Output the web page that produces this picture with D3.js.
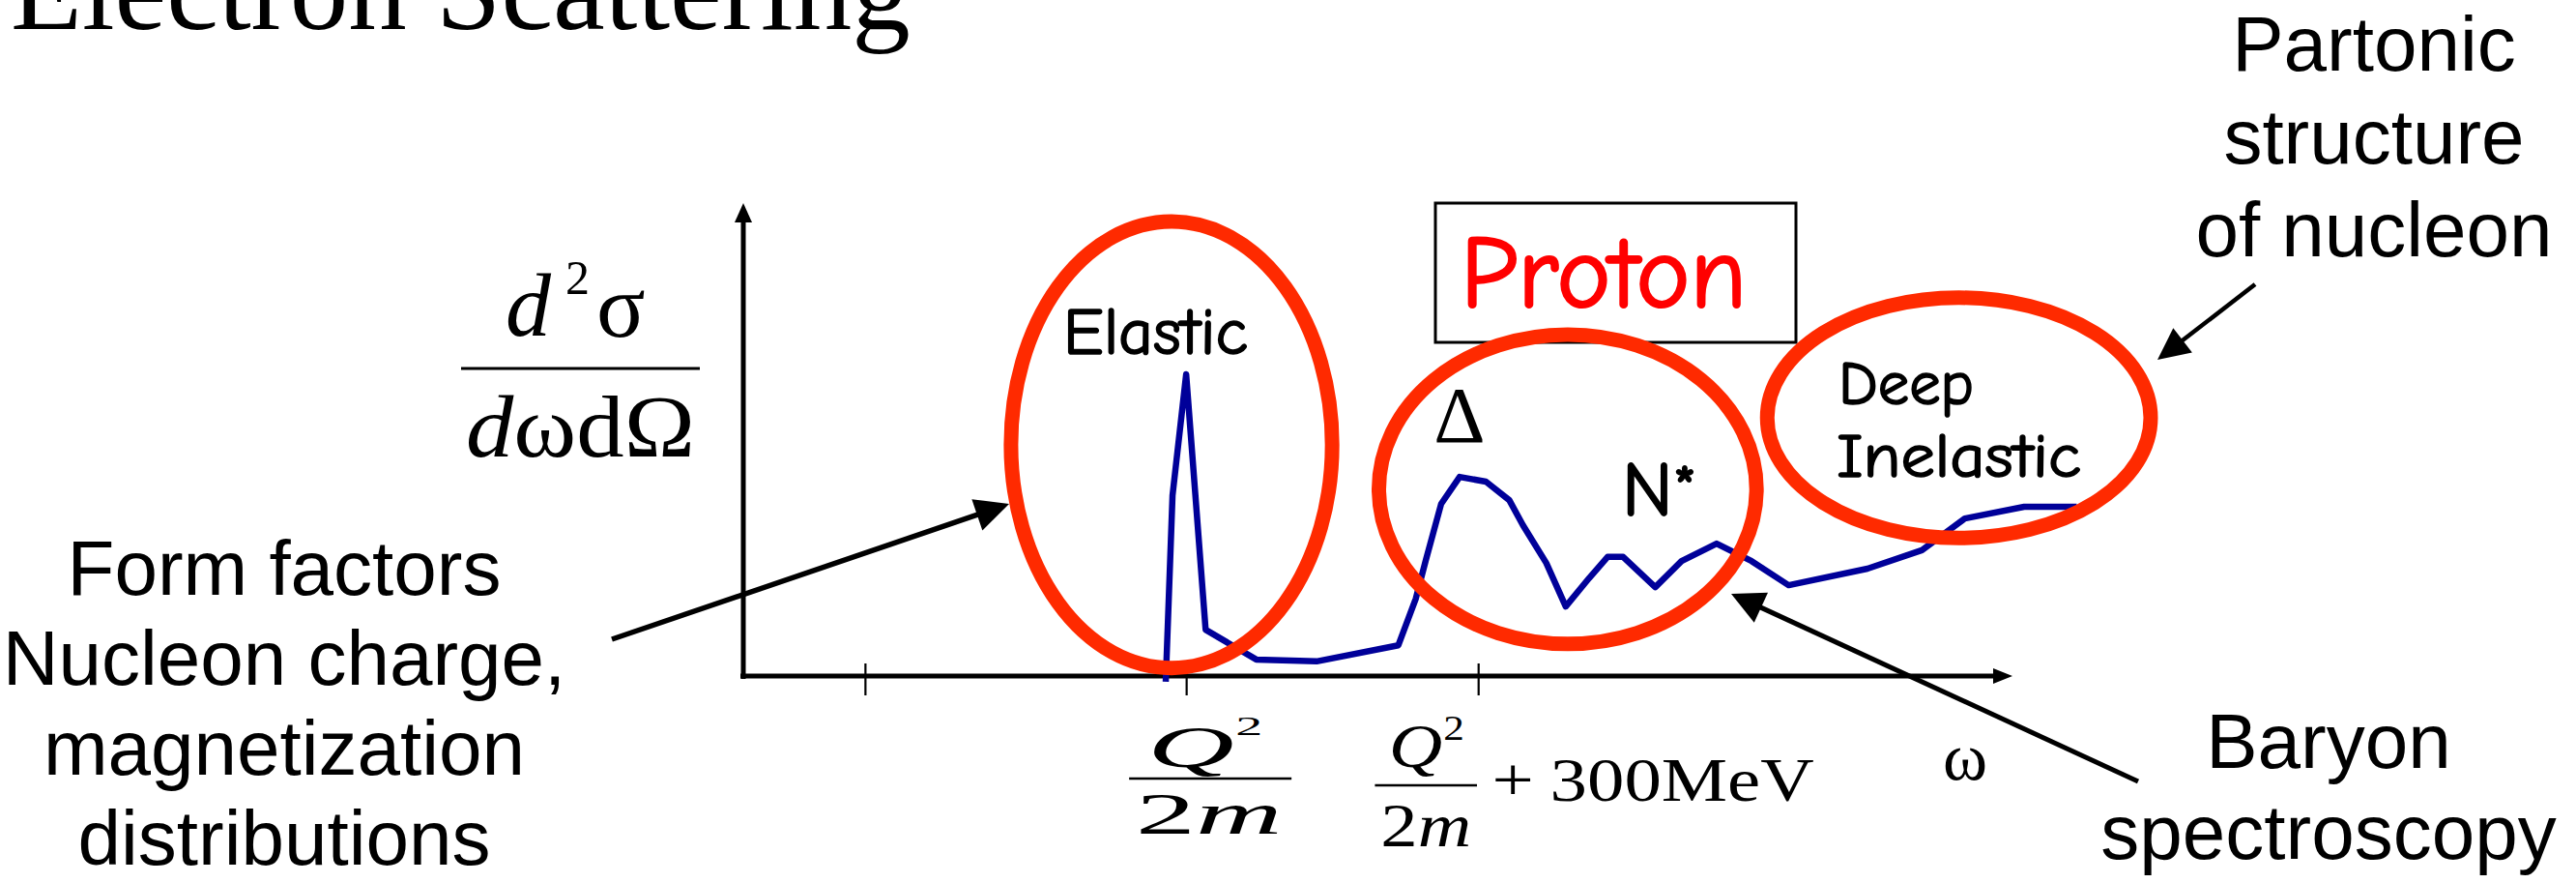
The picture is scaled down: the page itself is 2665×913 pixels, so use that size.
<!DOCTYPE html>
<html>
<head>
<meta charset="utf-8">
<script src="https://cdn.jsdelivr.net/npm/d3@7"></script>
<style>
  html, body { margin: 0; padding: 0; background: #fff; }
  svg { display: block; }
</style>
</head>
<body>
<svg id="chart" width="2665" height="913"></svg>
<script>
// Energy transfer measured from the elastic peak Q²/2m, in MeV
const omega = [-21, -14, 0, 20, 72, 134, 218, 236, 246, 262, 281, 308, 332, 346, 370, 390,
               414, 433, 449, 482, 509, 545, 581, 619, 700, 756, 800, 861, 915];
// Double-differential cross section, arbitrary units
const crossSection = [-1.2, 38.2, 63.8, 9.8, 3.5, 3.1, 6.5, 16.4, 24.3, 36.4, 42.1, 41.1, 37.2, 31.9,
                      23.9, 14.7, 20.7, 25.2, 25.2, 18.8, 24.3, 28.0, 24.3, 19.2, 22.7, 26.6, 33.3,
                      35.8, 35.8];
// Tick marks along the energy axis (MeV)
const tickValues = [-330, 0, 300];

// Kinematic regions circled on the spectrum (data units)
const regionNames = ["Elastic", "Resonance", "Deep Inelastic"];
const regionOmega = [-15, 392, 794];
const regionSigma = [48.9, 39.5, 54.6];
const regionHalfOmega = [165, 194, 197];
const regionHalfSigma = [47.2, 32.7, 25.4];

const svg = d3.select("#chart");
const W = 2665, H = 913;

const x = d3.scaleLinear().domain([-455, 849]).range([769, 2082]);
const y = d3.scaleLinear().domain([0, 100]).range([699, 210]);

const serif = '"Liberation Serif", "Times New Roman", Times, serif';
const sans = '"Liberation Sans", Arial, Helvetica, sans-serif';
const comic = '"Comic Sans MS", "Comic Neue", "Noto Sans", sans-serif';
const RED = "#ff2a00";
const BLUE = "#000099";

svg.append("rect").attr("width", W).attr("height", H).attr("fill", "#fff");

// Straight arrow with a filled triangular head
function arrow(g, tail, tip, len, half, width) {
  const dx = tip[0] - tail[0], dy = tip[1] - tail[1];
  const L = Math.hypot(dx, dy), ux = dx / L, uy = dy / L;
  const bx = tip[0] - ux * len, by = tip[1] - uy * len;
  g.append("line")
    .attr("x1", tail[0]).attr("y1", tail[1])
    .attr("x2", bx + ux * 2).attr("y2", by + uy * 2)
    .attr("stroke", "#000").attr("stroke-width", width);
  g.append("path")
    .attr("d", `M${tip[0]},${tip[1]}L${bx - uy * half},${by + ux * half}L${bx + uy * half},${by - ux * half}Z`)
    .attr("fill", "#000");
}

// Title
svg.append("text")
  .attr("x", 11).attr("y", 30)
  .attr("font-family", serif).attr("font-size", 121)
  .text("Electron Scattering");

// Axes
const axes = svg.append("g");
const xAxis = d3.axisBottom(x).tickValues(tickValues).tickFormat("").tickSizeOuter(0).tickSizeInner(19);
const gx = axes.append("g").attr("transform", `translate(0,${y(0)})`).call(xAxis);
gx.select(".domain").remove();
gx.selectAll(".tick line").attr("y1", -13).attr("y2", 20).attr("stroke", "#000").attr("stroke-width", 2.2);
arrow(axes, [x.range()[0] - 3, y(0)], [x.range()[1], y(0)], 20, 8, 5);
arrow(axes, [x.range()[0], y(0) + 3], [x.range()[0], y.range()[1]], 20, 9, 5);

// Spectrum
const pts = omega.map((w, i) => [w, crossSection[i]]);
svg.append("path")
  .datum(pts)
  .attr("d", d3.line().x(d => x(d[0])).y(d => y(d[1])))
  .attr("fill", "none")
  .attr("stroke", BLUE)
  .attr("stroke-width", 6.5)
  .attr("stroke-linejoin", "round");

// "Proton" box
svg.append("rect")
  .attr("x", 1485).attr("y", 210).attr("width", 373).attr("height", 144)
  .attr("fill", "none").attr("stroke", "#000").attr("stroke-width", 3);
svg.append("text")
  .attr("x", 1511).attr("y", 317)
  .attr("font-family", comic).attr("font-size", 106).attr("fill", "#ff0000")
  .attr("stroke", "#ff0000").attr("stroke-width", 2.2)
  .attr("textLength", 296).attr("lengthAdjust", "spacingAndGlyphs")
  .text("Proton");

// Region ellipses
svg.append("g").selectAll("ellipse")
  .data(regionNames)
  .join("ellipse")
  .attr("cx", (d, i) => x(regionOmega[i]))
  .attr("cy", (d, i) => y(regionSigma[i]))
  .attr("rx", (d, i) => x(regionOmega[i] + regionHalfOmega[i]) - x(regionOmega[i]))
  .attr("ry", (d, i) => y(regionSigma[i]) - y(regionSigma[i] + regionHalfSigma[i]))
  .attr("fill", "none")
  .attr("stroke", RED)
  .attr("stroke-width", 15);

// Region labels
function comicLabel(text, x0, y0, size, len) {
  return svg.append("text")
    .attr("x", x0).attr("y", y0)
    .attr("font-family", comic).attr("font-size", size)
    .attr("stroke", "#000").attr("stroke-width", 1.6)
    .attr("textLength", len).attr("lengthAdjust", "spacingAndGlyphs")
    .text(text);
}
comicLabel("Elastic", 1100, 366, 68, 191);
comicLabel("Deep", 1902, 418, 65, 140);
comicLabel("Inelastic", 1900, 493, 65, 253);
const nStar = svg.append("text")
  .attr("x", 1678).attr("y", 533)
  .attr("font-family", comic).attr("font-size", 80)
  .attr("stroke", "#000").attr("stroke-width", 1.8);
nStar.append("tspan").text("N");
nStar.append("tspan").attr("font-size", 62).attr("dy", -8).text("*");
svg.append("text")
  .attr("x", 1510).attr("y", 457).attr("text-anchor", "middle")
  .attr("font-family", serif).attr("font-size", 83)
  .text("Δ");

// Annotation arrows
const notes = svg.append("g");
arrow(notes, [633, 661], [1044, 521], 35, 17, 5.5);
arrow(notes, [2212, 808], [1791, 614], 34, 17, 5);
arrow(notes, [2333, 294], [2232, 372], 33, 16, 4.5);

// Annotation texts
function block(lines, cx, y0, step) {
  const t = svg.append("text")
    .attr("font-family", sans).attr("font-size", 80).attr("text-anchor", "middle");
  lines.forEach((s, i) => t.append("tspan").attr("x", cx).attr("y", y0 + i * step).text(s));
}
block(["Form factors", "Nucleon charge,", "magnetization", "distributions"], 294, 615, 93);
block(["Partonic", "structure", "of nucleon"], 2456, 73, 96);
block(["Baryon", "spectroscopy"], 2409, 794, 94);

// Y-axis label: d²σ / dω dΩ
const yl = svg.append("g").attr("font-family", serif);
yl.append("text").attr("x", 523).attr("y", 347).attr("font-size", 94).attr("font-style", "italic").text("d");
yl.append("text").attr("x", 585).attr("y", 304).attr("font-size", 50).text("2");
yl.append("text").attr("x", 617).attr("y", 348).attr("font-size", 94).text("σ");
yl.append("line").attr("x1", 477).attr("x2", 724).attr("y1", 381).attr("y2", 381)
  .attr("stroke", "#000").attr("stroke-width", 3);
const den = yl.append("text").attr("x", 482).attr("y", 472).attr("font-size", 92)
  .attr("textLength", 237).attr("lengthAdjust", "spacingAndGlyphs");
den.append("tspan").attr("font-style", "italic").text("d");
den.append("tspan").text("ωdΩ");

// Tick labels: Q²/2m and Q²/2m + 300MeV
function fraction(g, qx, supX, supY, supSize, barHalf, barY, denX, numY, denY, size) {
  g.append("text").attr("x", qx).attr("y", numY).attr("text-anchor", "middle")
    .attr("font-size", size).attr("font-style", "italic").text("Q");
  g.append("text").attr("x", supX).attr("y", supY).attr("font-size", supSize).text("2");
  g.append("line").attr("x1", -barHalf).attr("x2", barHalf).attr("y1", barY).attr("y2", barY)
    .attr("stroke", "#000").attr("stroke-width", 2.5);
  const d = g.append("text").attr("x", denX).attr("y", denY).attr("text-anchor", "middle").attr("font-size", size);
  d.append("tspan").text("2");
  d.append("tspan").attr("font-style", "italic").text("m");
}
const l1 = svg.append("g").attr("font-family", serif)
  .attr("transform", `translate(${x(tickValues[1]) + 25},0) scale(2.0,1)`);
fraction(l1, -10, 13, 760, 28, 42, 805, -0.75, 793, 862, 62);

const l2 = svg.append("g").attr("font-family", serif)
  .attr("transform", `translate(${x(tickValues[2]) - 54},0) scale(1.2,1)`);
fraction(l2, -9, 15, 765, 36, 44, 812, 0, 793, 875, 64);
l2.append("text").attr("x", 57).attr("y", 828).attr("font-size", 64).text("+");
l2.append("text").attr("x", 107).attr("y", 828).attr("font-size", 64).text("300MeV");

// Energy axis symbol
svg.append("text")
  .attr("x", 2033).attr("y", 806).attr("text-anchor", "middle")
  .attr("font-family", serif).attr("font-size", 70)
  .text("ω");
</script>
</body>
</html>
